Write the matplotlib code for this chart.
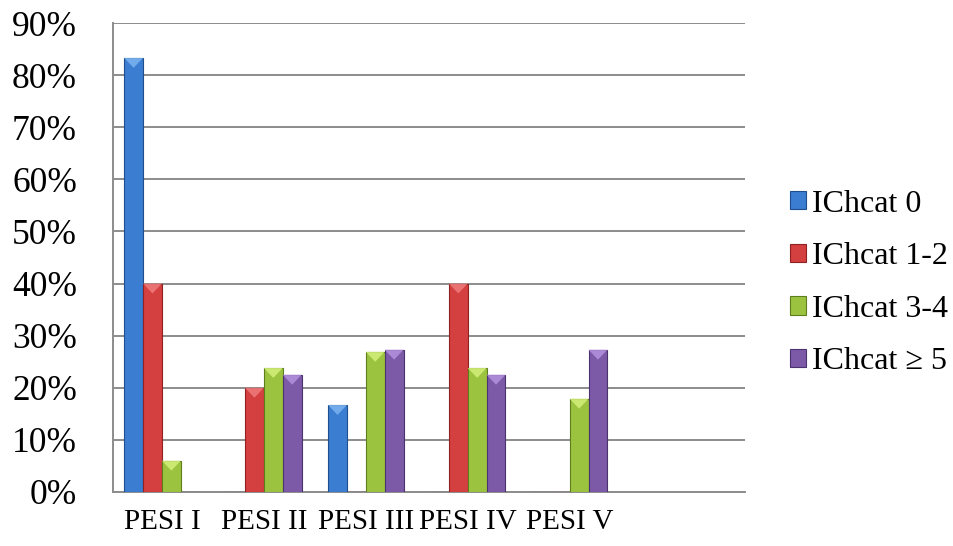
import matplotlib
matplotlib.use("Agg")
import matplotlib.pyplot as plt
import numpy as np
from matplotlib.patches import Polygon, Patch
from matplotlib.ticker import FuncFormatter

categories = ["PESI I", "PESI II", "PESI III", "PESI IV", "PESI V"]
series_names = ["IChcat 0", "IChcat 1-2", "IChcat 3-4", "IChcat \u2265 5"]
ichcat_0 = [83.3, 0.0, 16.7, 0.0, 0.0]
ichcat_1_2 = [40.0, 20.0, 0.0, 40.0, 0.0]
ichcat_3_4 = [6.0, 23.8, 26.9, 23.8, 17.9]
ichcat_5 = [0.0, 22.5, 27.3, 22.5, 27.3]
series_values = [ichcat_0, ichcat_1_2, ichcat_3_4, ichcat_5]
colors = ["#3B7DD0", "#D43F3F", "#9CC33F", "#7C5AA8"]
edges = ["#1F4E8C", "#8E2222", "#5E7E1E", "#4B3370"]
caps = ["#7DB4F0", "#F07C7C", "#D4F07A", "#B592E0"]

plt.rcParams['font.family'] = ['Liberation Serif', 'DejaVu Serif']

fig = plt.figure(figsize=(9.54, 5.46), dpi=100)
ax = fig.add_axes([113/954, 1-492/546, (745-113)/954, (492-23)/546])

x = np.arange(len(categories))
w = 0.185
ylim_top = 90
cap_depth = 1.9  # in data units (percentage points)
for i, vals in enumerate(series_values):
    pos = x + (i - 1.5) * w
    ax.bar(pos, vals, width=w, color=colors[i], edgecolor=edges[i],
           linewidth=0.8, zorder=3)
    for p, v in zip(pos, vals):
        if v > 0:
            tri = Polygon([[p - w/2, v], [p + w/2, v], [p, v - min(cap_depth, v*0.5)]],
                          closed=True, facecolor=caps[i], edgecolor='none',
                          alpha=0.85, zorder=4)
            ax.add_patch(tri)

ax.set_ylim(0, ylim_top)
ax.set_xlim(-0.48, 5.72)
ax.set_yticks(np.arange(0, 91, 10))
ax.yaxis.set_major_formatter(FuncFormatter(lambda v, _: f"{int(round(v))}%"))
ax.set_xticks(x)
ax.set_xticklabels(categories)
ax.tick_params(axis='y', length=0, pad=26, labelsize=25.5)
ax.tick_params(axis='x', length=0, pad=12, labelsize=21)
ax.yaxis.grid(True, color='#8C8C8C', linewidth=1.4, zorder=0)
ax.set_axisbelow(True)
for s in ['top', 'right']:
    ax.spines[s].set_visible(False)
for s in ['left', 'bottom']:
    ax.spines[s].set_color('#8C8C8C')
    ax.spines[s].set_linewidth(1.4)

handles = [Patch(facecolor=colors[i], edgecolor=edges[i], linewidth=0.8) for i in range(4)]
fig.legend(handles, series_names, loc='center left', bbox_to_anchor=(774/954, 1-283/546),
           frameon=False, fontsize=23, handlelength=0.5, handleheight=0.5,
           handletextpad=0.2, labelspacing=0.74, borderpad=0)

fig.savefig("out.png", dpi=100)
